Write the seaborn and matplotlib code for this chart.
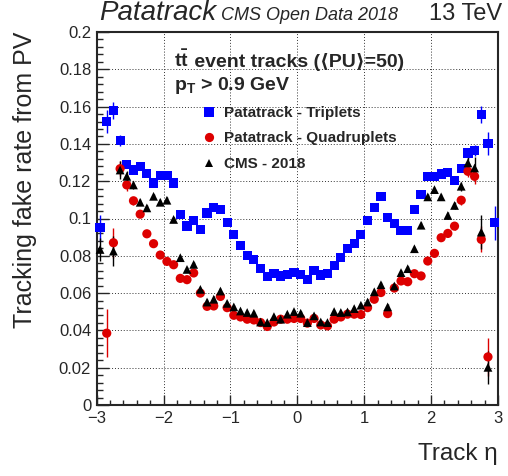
import numpy as np
import pandas as pd
import matplotlib
matplotlib.use("Agg")
import matplotlib.pyplot as plt
import seaborn as sns
from matplotlib.ticker import FixedLocator, MultipleLocator

# ---------------- data ----------------
eta_centers = [-2.95, -2.85, -2.75, -2.65, -2.55, -2.45, -2.35, -2.25, -2.15, -2.05,
               -1.95, -1.85, -1.75, -1.65, -1.55, -1.45, -1.35, -1.25, -1.15, -1.05,
               -0.95, -0.85, -0.75, -0.65, -0.55, -0.45, -0.35, -0.25, -0.15, -0.05,
               0.05, 0.15, 0.25, 0.35, 0.45, 0.55, 0.65, 0.75, 0.85, 0.95,
               1.05, 1.15, 1.25, 1.35, 1.45, 1.55, 1.65, 1.75, 1.85, 1.95,
               2.05, 2.15, 2.25, 2.35, 2.45, 2.55, 2.65, 2.75, 2.85, 2.95]

triplets = [0.095, 0.152, 0.158, 0.142, 0.129, 0.126, 0.128, 0.124, 0.119, 0.123,
            0.123, 0.119, 0.102, 0.096, 0.099, 0.094, 0.103, 0.106, 0.105, 0.098,
            0.0914, 0.0856, 0.0802, 0.0781, 0.0733, 0.0688, 0.0706, 0.0692, 0.0701, 0.0710,
            0.0701, 0.0674, 0.0722, 0.0697, 0.0704, 0.0749, 0.0790, 0.0838, 0.0865, 0.0914,
            0.0989, 0.1057, 0.1116, 0.1004, 0.0972, 0.0936, 0.0936, 0.1048, 0.1128, 0.1226,
            0.1226, 0.1239, 0.1248, 0.1203, 0.1267, 0.1351, 0.1364, 0.1556, 0.1403, 0.0977]
triplets_err = [0.007, 0.006, 0.0045, 0.003, 0.002, 0.002, 0.0015, 0.0015, 0.0015, 0.0015,
                0.0015, 0.0015, 0.0015, 0.0015, 0.0015, 0.0015, 0.0015, 0.0015, 0.0015, 0.0015,
                0.001, 0.001, 0.001, 0.001, 0.001, 0.001, 0.001, 0.001, 0.001, 0.001,
                0.001, 0.001, 0.001, 0.001, 0.001, 0.001, 0.001, 0.001, 0.001, 0.001,
                0.0015, 0.0015, 0.0015, 0.0015, 0.0015, 0.0015, 0.0015, 0.0015, 0.0015, 0.0015,
                0.0015, 0.0015, 0.0015, 0.002, 0.002, 0.0025, 0.003, 0.0045, 0.006, 0.009]

quadruplets = [np.nan, 0.0385, 0.087, 0.1267, 0.118, 0.1095, 0.1023, 0.0918, 0.0865, 0.0804,
               0.077, 0.0752, 0.0679, 0.0672, 0.0708, 0.060, 0.0529, 0.0531, 0.0582, 0.0522,
               0.0481, 0.0472, 0.046, 0.0456, 0.0442, 0.0421, 0.0445, 0.046, 0.046, 0.0464,
               0.0464, 0.0439, 0.0464, 0.0429, 0.0424, 0.046, 0.0472, 0.0487, 0.0487, 0.0485,
               0.0522, 0.0567, 0.0603, 0.049, 0.0627, 0.0665, 0.0661, 0.0704, 0.0692, 0.0772,
               0.0813, 0.0897, 0.092, 0.0959, 0.1098, 0.1253, 0.1226, 0.0888, 0.0258, np.nan]
quadruplets_err = [0.0, 0.013, 0.008, 0.004, 0.003, 0.002, 0.0015, 0.0015, 0.0015, 0.0015,
                   0.0015, 0.0015, 0.0015, 0.0015, 0.0015, 0.0015, 0.0015, 0.0015, 0.0015, 0.0015,
                   0.001, 0.001, 0.001, 0.001, 0.001, 0.001, 0.001, 0.001, 0.001, 0.001,
                   0.001, 0.001, 0.001, 0.001, 0.001, 0.001, 0.001, 0.001, 0.001, 0.001,
                   0.0015, 0.0015, 0.0015, 0.0015, 0.0015, 0.0015, 0.0015, 0.0015, 0.0015, 0.0015,
                   0.0015, 0.0015, 0.002, 0.002, 0.0025, 0.003, 0.004, 0.007, 0.010, 0.0]

cms2018 = [0.0834, np.nan, 0.0825, 0.126, 0.1226, 0.118, 0.1087, 0.1057, 0.1119, 0.1087,
           0.1098, 0.0995, 0.079, 0.0727, 0.0754, 0.062, 0.0552, 0.0567, 0.0611, 0.0545,
           0.0526, 0.0504, 0.0496, 0.0492, 0.0445, 0.0442, 0.0474, 0.046, 0.0487, 0.0501,
           0.0492, 0.0442, 0.0478, 0.0445, 0.0442, 0.0501, 0.0496, 0.0499, 0.0517, 0.0535,
           0.0552, 0.0607, 0.0645, 0.0526, 0.0638, 0.071, 0.0731, 0.0838, 0.0964, 0.1116,
           0.1155, 0.1116, 0.1016, 0.107, 0.1173, 0.1298, 0.1271, 0.0927, 0.0202, np.nan]
cms2018_err = [0.006, 0.0, 0.008, 0.005, 0.003, 0.002, 0.0015, 0.0015, 0.0015, 0.0015,
               0.0015, 0.0015, 0.0015, 0.0015, 0.0015, 0.0015, 0.0015, 0.0015, 0.0015, 0.0015,
               0.001, 0.001, 0.001, 0.001, 0.001, 0.001, 0.001, 0.001, 0.001, 0.001,
               0.001, 0.001, 0.001, 0.001, 0.001, 0.001, 0.001, 0.001, 0.001, 0.001,
               0.0015, 0.0015, 0.0015, 0.0015, 0.0015, 0.0015, 0.0015, 0.0015, 0.0015, 0.0015,
               0.0015, 0.0015, 0.002, 0.002, 0.0025, 0.004, 0.006, 0.009, 0.009, 0.0]

series_names = ["Patatrack - Triplets", "Patatrack - Quadruplets", "CMS - 2018"]
xtick_values = [-3, -2, -1, 0, 1, 2, 3]
xtick_labels = ["\u22123", "\u22122", "\u22121", "0", "1", "2", "3"]
ytick_values = [0, 0.02, 0.04, 0.06, 0.08, 0.1, 0.12, 0.14, 0.16, 0.18, 0.2]
ytick_labels = ["0", "0.02", "0.04", "0.06", "0.08", "0.1", "0.12", "0.14", "0.16", "0.18", "0.2"]

# ---------------- style ----------------
sns.set_style("ticks")
plt.rcParams["font.family"] = ["Liberation Sans", "DejaVu Sans"]
plt.rcParams["mathtext.fontset"] = "custom"
plt.rcParams["mathtext.rm"] = "Liberation Sans"
plt.rcParams["mathtext.bf"] = "Liberation Sans:bold"
plt.rcParams["mathtext.it"] = "Liberation Sans:italic"

colors = {series_names[0]: "#0000ff", series_names[1]: "#dd0000", series_names[2]: "#000000"}
markers = {series_names[0]: "s", series_names[1]: "o", series_names[2]: "^"}
sizes = {series_names[0]: 44, series_names[1]: 44, series_names[2]: 40}

frames = []
for name, vals, errs in zip(series_names, [triplets, quadruplets, cms2018],
                            [triplets_err, quadruplets_err, cms2018_err]):
    frames.append(pd.DataFrame({"eta": eta_centers, "rate": vals, "err": errs, "series": name}))
df = pd.concat(frames, ignore_index=True)

W, H = 508, 476
fig = plt.figure(figsize=(W / 100, H / 100), dpi=100)
ax = fig.add_axes([96.7 / W, 1 - 405 / H, (498 - 96.7) / W, (405 - 32) / H])

# error bars
for name in series_names:
    sub = df[(df["series"] == name) & df["rate"].notna()]
    ax.errorbar(sub["eta"], sub["rate"], yerr=sub["err"], fmt="none",
                ecolor=colors[name], elinewidth=1.0, capsize=0, zorder=2)

sns.scatterplot(data=df.dropna(subset=["rate"]), x="eta", y="rate",
                hue="series", style="series", size="series",
                palette=colors, markers=markers, sizes=sizes,
                hue_order=series_names, style_order=series_names, size_order=series_names,
                linewidth=0, edgecolor="none", ax=ax, zorder=3, clip_on=False)

ax.set_xlim(-3, 3)
ax.set_ylim(0, 0.2)
ax.xaxis.set_major_locator(FixedLocator(xtick_values))
ax.set_xticklabels(xtick_labels)
ax.xaxis.set_minor_locator(MultipleLocator(0.2))
ax.yaxis.set_major_locator(FixedLocator(ytick_values))
ax.set_yticklabels(ytick_labels)
ax.yaxis.set_minor_locator(MultipleLocator(0.004))

ax.tick_params(axis="both", which="both", direction="in", top=False, right=False)
ax.tick_params(axis="y", which="major", length=8.5, width=1.0, labelsize=12, pad=4)
ax.tick_params(axis="y", which="minor", length=4.3, width=1.0)
ax.tick_params(axis="x", which="major", length=7.2, width=1.0, labelsize=12, pad=4)
ax.tick_params(axis="x", which="minor", length=3.6, width=1.0)
for sp in ax.spines.values():
    sp.set_linewidth(1.5)
    sp.set_visible(True)

ax.grid(True, which="major", color="#333333", linestyle=(0, (1, 2)), linewidth=0.7)
ax.set_axisbelow(True)

ax.set_xlabel("Track \u03b7", fontsize=17.5, ha="right")
ax.xaxis.set_label_coords(1.0, -0.102)
ax.set_ylabel("Tracking fake rate from PV", fontsize=18, ha="right")
ax.yaxis.set_label_coords(-0.149, 1.0)

# legend
handles, labels = ax.get_legend_handles_labels()
ax.legend(handles, labels, loc="upper left", bbox_to_anchor=(201 / W, 1 - 106 / H),
          bbox_transform=fig.transFigure, frameon=False, borderpad=0, borderaxespad=0,
          handlelength=1.0, handletextpad=0.5, labelspacing=0.75,
          prop={"family": ["Liberation Sans", "DejaVu Sans"], "weight": "bold", "size": 11})

# texts
fig.text(99 / W, 1 - 19.5 / H, "Patatrack", fontsize=20, style="italic", va="baseline")
fig.text(221 / W, 1 - 19.5 / H, "CMS Open Data 2018", fontsize=13, style="italic", va="baseline")
fig.text(502 / W, 1 - 19.5 / H, "13 TeV", fontsize=17, ha="right", va="baseline")

line1_y = 1 - 67 / H
t1 = fig.text(174 / W, line1_y, r"$\mathbf{t\bar{t}}$",
              fontsize=14, fontweight="bold", va="baseline")
fig.canvas.draw()
bb = t1.get_window_extent(renderer=fig.canvas.get_renderer())
fig.text(bb.x1 / W, line1_y, " event tracks (\u27e8PU\u27e9=50)", fontsize=14,
         fontweight="bold", va="baseline", ha="left",
         family=["Liberation Sans", "DejaVu Sans"])
fig.text(174 / W, 1 - 90 / H, r"$\mathbf{p_{T}}$" + " > 0.9 GeV",
         fontsize=14, fontweight="bold", va="baseline")

fig.savefig("out.png", dpi=100)
